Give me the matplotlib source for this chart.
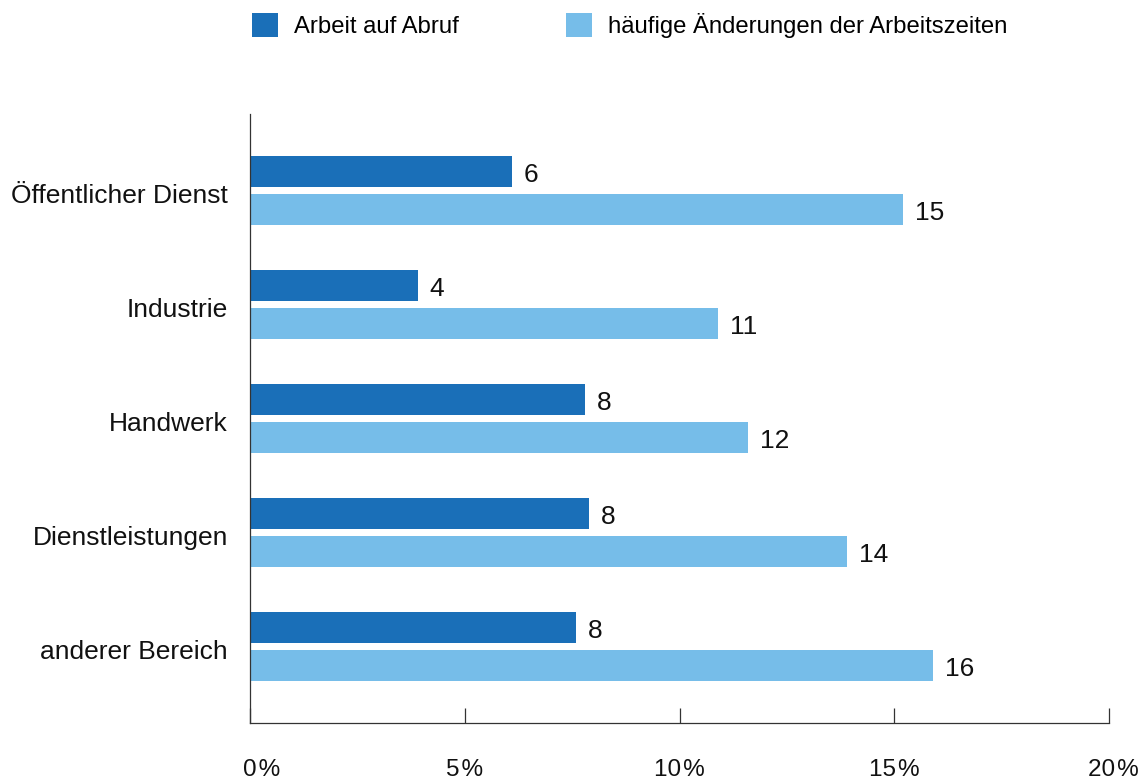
import matplotlib
matplotlib.use("Agg")
import matplotlib.pyplot as plt
import matplotlib.transforms as mtransforms
import numpy as np

categories = ["Öffentlicher Dienst", "Industrie", "Handwerk", "Dienstleistungen", "anderer Bereich"]
series_names = ["Arbeit auf Abruf", "häufige Änderungen der Arbeitszeiten"]
abruf = [6.1, 3.9, 7.8, 7.9, 7.6]
aenderungen = [15.2, 10.9, 11.6, 13.9, 15.9]
abruf_labels = ["6", "4", "8", "8", "8"]
aenderungen_labels = ["15", "11", "12", "14", "16"]
xticks = [0, 5, 10, 15, 20]
xtick_labels = ["0\u200a%", "5\u200a%", "10\u200a%", "15\u200a%", "20\u200a%"]

dark = "#1a6fb8"
light = "#76bde9"

plt.rcParams["font.family"] = ["Liberation Sans", "DejaVu Sans"]

W, H = 1146, 781
fig = plt.figure(figsize=(W / 100, H / 100), dpi=100)
ax = fig.add_axes([250 / W, 1 - 723 / H, (1109 - 250) / W, (723 - 114) / H])


def shift(artist, dx_px, dy_px):
    artist.set_transform(artist.get_transform() +
                         mtransforms.ScaledTranslation(dx_px / 100, dy_px / 100, fig.dpi_scale_trans))


y = np.arange(len(categories))
h = 0.268
off = 0.168
b1 = ax.barh(y - off, abruf, height=h, color=dark, label=series_names[0])
b2 = ax.barh(y + off, aenderungen, height=h, color=light, label=series_names[1])
t1 = ax.bar_label(b1, labels=abruf_labels, padding=8.5, fontsize=19, color="#111111")
t2 = ax.bar_label(b2, labels=aenderungen_labels, padding=8.5, fontsize=19, color="#111111")
for t in list(t1) + list(t2):
    t.xyann = (8.5, -2.3)

ax.set_xlim(0, 20)
ax.set_ylim(len(categories) - 1 + 0.671, -0.671)
ax.set_yticks(y)
ax.set_yticklabels(categories, fontsize=19, color="#111111")
ax.tick_params(axis="y", length=0, pad=16)
ax.set_xticks(xticks)
ax.set_xticklabels(xtick_labels, fontsize=17.5, color="#111111")
ax.tick_params(axis="x", direction="in", length=10.5, width=0.9, color="#333333", pad=26)

for lbl in ax.get_yticklabels():
    shift(lbl, 0, -3)
xl = ax.get_xticklabels()
shift(xl[0], 12, 0)
shift(xl[-1], 4.5, 0)

for s in ["top", "right"]:
    ax.spines[s].set_visible(False)
for s in ["left", "bottom"]:
    ax.spines[s].set_color("#333333")
    ax.spines[s].set_linewidth(0.9)

fs = 17.2
px = fs * 100 / 72
fig.legend(handles=[b1, b2], labels=series_names, loc="upper left",
           bbox_to_anchor=(252 / W, 1 - 13 / H), ncol=2, frameon=False,
           fontsize=fs, borderpad=0, borderaxespad=0,
           handlelength=26 / px, handleheight=27 / px, handletextpad=16 / px,
           columnspacing=107 / px)

fig.savefig("out.png", dpi=100)
